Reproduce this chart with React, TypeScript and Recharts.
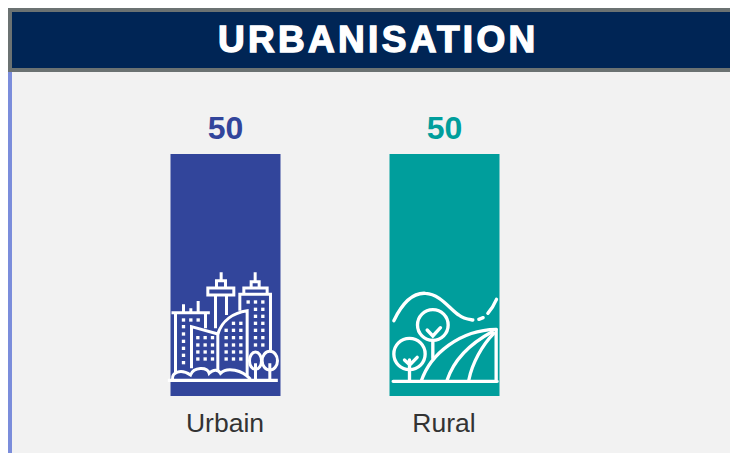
import { BarChart, Bar, XAxis, YAxis, Cell, LabelList } from 'recharts'

const categories = ['Urbain', 'Rural']
const values = [50, 50]

const chartData = categories.map((name, i) => ({ name, value: values[i] }))

const COLORS = ['#32459b', '#009e9c']
const FONT = '"Liberation Sans", Arial, sans-serif'

// Icons are traced in 3x pixels, hence the scale(1/3) on both groups
function CityIcon({ x, bottom }: { x: number; bottom: number }) {
    const windows: [number, number][] = []
    const addGrid = (xs: number[], ys: number[]) => xs.forEach(wx => ys.forEach(wy => windows.push([wx, wy])))
    addGrid([69], [200, 222, 244, 265, 286, 308])
    addGrid([69, 91, 113], [180])
    addGrid([112, 134, 156], [233, 255, 276, 297])
    addGrid([219, 241], [190])
    addGrid([197, 219, 241], [211, 233, 255, 276, 297])
    addGrid([263, 285, 307], [126])
    addGrid([285, 307], [148, 169, 190, 211, 233, 255])
    return (
        <g transform={`translate(${x - 10},${bottom - 136}) scale(0.3333)`} fill="none" stroke="#fff" strokeWidth={9}>
            <path d="M22 361H352" strokeWidth={10} />
            <path d="M33 158H148M45 158V340M135 158V205M69 158V133M91 158V145M113 158V123" />
            <path d="M93 325V200L172 222V335" />
            <path d="M172 222C185 180 220 158 260 152V345" />
            <path d="M142 84H220V105H142ZM165 105V205M198 105V165M168 84V62H195V84M182 62V37" />
            <path d="M238 152V103H330V275M250 103V84H320V103M272 84V65H296V84M284 65V37" />
            <ellipse cx={285} cy={302} rx={18} ry={26} />
            <ellipse cx={328} cy={302} rx={23} ry={28} />
            <path d="M285 310V358M328 310V358" />
            <path d="M36 358C34 338 60 325 90 345C100 320 140 320 146 340C160 325 175 330 180 340C200 320 245 330 270 358" />
            {windows.map(([wx, wy], i) => (
                <rect key={i} x={wx - 5} y={wy - 5} width={10} height={10} fill="#fff" stroke="none" />
            ))}
        </g>
    )
}

function RuralIcon({ x, bottom }: { x: number; bottom: number }) {
    return (
        <g transform={`translate(${x - 9},${bottom - 116}) scale(0.3333)`} fill="none" stroke="#fff" strokeWidth={10} strokeLinecap="round">
            <path d="M38 304H350M347 148V304" />
            <path d="M122 304C150 220 240 150 347 148" />
            <path d="M200 300C220 240 270 190 335 155" />
            <path d="M265 300C275 250 305 195 340 160" />
            <circle cx={157} cy={135} r={46} />
            <path d="M157 181V235M140 150L157 168L180 143" />
            <circle cx={87} cy={222} r={47} />
            <path d="M87 240V304M72 240L88 255L110 232" />
            <path d="M40 122C70 60 105 38 135 40C180 42 210 90 235 105C250 117 265 118 277 120" />
            <path d="M295 118L308 113M322 100C335 85 342 72 348 58" />
        </g>
    )
}

function IconBar(props: any) {
    const { x, y, width, height, index } = props
    const bottom = y + height
    return (
        <g>
            <rect x={x} y={y} width={width} height={height} fill={COLORS[index]} />
            {index === 0 ? <CityIcon x={x} bottom={bottom} /> : <RuralIcon x={x} bottom={bottom} />}
        </g>
    )
}

function ValueLabel(props: any) {
    const { x, y, width, value, index } = props
    return (
        <text x={x + width / 2} y={y - 15} textAnchor="middle" fontFamily={FONT} fontSize={32} fontWeight={700} fill={COLORS[index]}>
            {value}
        </text>
    )
}

export default function App() {
    return (
        <div style={{ position: 'relative', width: 730, height: 445, overflow: 'hidden', fontFamily: FONT }}>
            <div style={{ position: 'absolute', left: 4, top: 64, width: 726, height: 381, background: '#f2f2f2' }} />
            <div style={{ position: 'absolute', left: 0, top: 64, width: 4, height: 381, background: '#7b8ddb' }} />
            <div
                style={{
                    position: 'absolute',
                    left: 0,
                    top: 0,
                    width: 730,
                    height: 64,
                    boxSizing: 'border-box',
                    background: '#002555',
                    borderTop: '4px solid #6b7272',
                    borderBottom: '4px solid #6b7272',
                    borderLeft: '4px solid #6b7272',
                    color: '#fff',
                    fontSize: 37,
                    fontWeight: 700,
                    letterSpacing: 3.3,
                    lineHeight: '55px',
                    WebkitTextStroke: '1.4px #fff',
                }}
            >
                <span style={{ position: 'absolute', left: 206, top: 0, whiteSpace: 'nowrap' }}>URBANISATION</span>
            </div>
            <div style={{ position: 'absolute', left: 0, top: 0 }}>
                <BarChart
                    width={730}
                    height={445}
                    data={chartData}
                    margin={{ top: 146, right: 184.5, bottom: 0, left: 107.5 }}
                    barSize={110}
                >
                    <XAxis
                        dataKey="name"
                        axisLine={false}
                        tickLine={false}
                        tickMargin={11}
                        height={57}
                        tick={{ fontSize: 26.5, fill: '#333', fontFamily: FONT }}
                    />
                    <YAxis hide domain={[0, 50]} />
                    <Bar dataKey="value" shape={IconBar} isAnimationActive={false}>
                        {chartData.map((d, i) => (
                            <Cell key={d.name} fill={COLORS[i]} />
                        ))}
                        <LabelList dataKey="value" content={ValueLabel} />
                    </Bar>
                </BarChart>
            </div>
        </div>
    )
}
